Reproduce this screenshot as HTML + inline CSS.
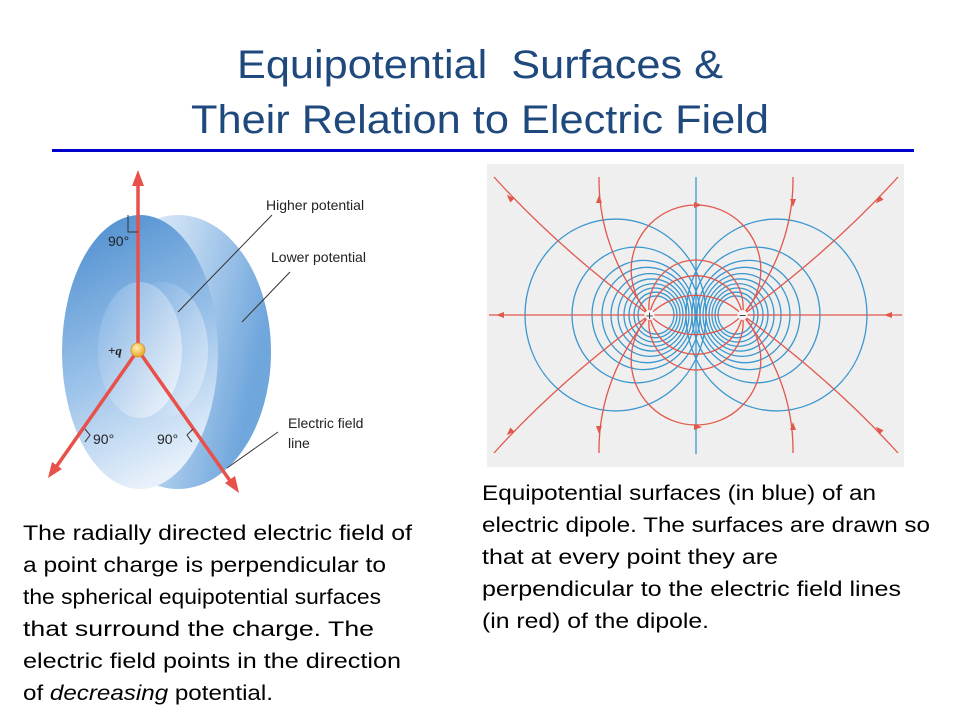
<!DOCTYPE html>
<html><head><meta charset="utf-8"><title>Equipotential Surfaces</title>
<style>
html,body{margin:0;padding:0;background:#fff;}
svg{display:block;font-family:"Liberation Sans",sans-serif;}
</style></head>
<body>
<svg id="slide" width="960" height="720" viewBox="0 0 960 720" xmlns="http://www.w3.org/2000/svg">
<defs>
  <linearGradient id="faceG" x1="0.2" y1="0" x2="0.5" y2="1">
    <stop offset="0" stop-color="#4f8fd0"/><stop offset="0.55" stop-color="#9cc3ea"/><stop offset="1" stop-color="#e8f1fb"/>
  </linearGradient>
  <linearGradient id="backG" x1="0" y1="0" x2="1" y2="0.3">
    <stop offset="0" stop-color="#ffffff"/><stop offset="0.5" stop-color="#c5dcf3"/><stop offset="1" stop-color="#6fa6dc"/>
  </linearGradient>
  <linearGradient id="holeG" x1="0" y1="0" x2="1" y2="1">
    <stop offset="0" stop-color="#6aa2da"/><stop offset="0.6" stop-color="#b9d4f0"/><stop offset="1" stop-color="#e6f0fa"/>
  </linearGradient>
  <linearGradient id="innerG" x1="0" y1="0" x2="1" y2="1">
    <stop offset="0" stop-color="#7eb0e2"/><stop offset="0.6" stop-color="#c8dcf2"/><stop offset="1" stop-color="#f4f8fd"/>
  </linearGradient>
  <radialGradient id="chargeG" cx="0.4" cy="0.35" r="0.7">
    <stop offset="0" stop-color="#fff3b0"/><stop offset="1" stop-color="#e8a020"/>
  </radialGradient>
</defs>

<g fill="#1f497d" font-size="40" text-anchor="middle">
  <text x="480" y="78" textLength="486" lengthAdjust="spacingAndGlyphs" xml:space="preserve">Equipotential  Surfaces &amp;</text>
  <text x="480" y="133" textLength="578" lengthAdjust="spacingAndGlyphs">Their Relation to Electric Field</text>
</g>
<rect x="52" y="149" width="862" height="3" fill="#0000cc"/>

<g>
  <ellipse cx="178" cy="352" rx="93" ry="137" fill="url(#backG)"/>
  <ellipse cx="140" cy="352" rx="78" ry="137" fill="url(#faceG)"/>
  <ellipse cx="162" cy="350" rx="46" ry="68" fill="url(#holeG)"/>
  <ellipse cx="140" cy="350" rx="42" ry="68" fill="url(#innerG)"/>
  <g stroke="#e8504a" stroke-width="3.5" fill="#e8504a">
    <line x1="138" y1="350" x2="138" y2="180"/>
    <polygon points="138,170 132,186 144,186" stroke="none"/>
    <line x1="138" y1="350" x2="54" y2="470"/>
    <polygon points="48,478 52,462 62,469" stroke="none"/>
    <line x1="138" y1="350" x2="233" y2="485"/>
    <polygon points="239,493 225,483 235,476" stroke="none"/>
  </g>
  <circle cx="138" cy="350" r="7" fill="url(#chargeG)" stroke="#d8902a" stroke-width="0.8"/>
  <g stroke="#333" stroke-width="1" fill="none">
    <polyline points="128,215 128,232 138,232"/>
    <polyline points="85,429 90,435 85,442"/>
    <polyline points="193,429 187,435 192,442"/>
    <line x1="272" y1="215" x2="178" y2="312"/>
    <line x1="290" y1="272" x2="242" y2="322"/>
    <line x1="278" y1="432" x2="227" y2="468"/>
  </g>
  <g fill="#222" font-size="14">
    <text x="108" y="246">90°</text>
    <text x="93" y="444">90°</text>
    <text x="157" y="444">90°</text>
    <text x="108" y="355" font-family="Liberation Serif,serif" font-style="italic" font-weight="bold" font-size="13">+q</text>
    <text x="266" y="210">Higher potential</text>
    <text x="271" y="262">Lower potential</text>
    <text x="288" y="428">Electric field</text>
    <text x="288" y="448">line</text>
  </g>
</g>

<g>
  <rect x="487" y="164" width="417" height="303" fill="#efefef"/>
  <g id="dipole"></g>
</g>

<g fill="#000" font-size="21">
  <text x="23" y="540" textLength="389" lengthAdjust="spacingAndGlyphs">The radially directed electric field of</text>
  <text x="23" y="572" textLength="363" lengthAdjust="spacingAndGlyphs">a point charge is perpendicular to</text>
  <text x="23" y="604" textLength="358" lengthAdjust="spacingAndGlyphs">the spherical equipotential surfaces</text>
  <text x="23" y="636" textLength="351" lengthAdjust="spacingAndGlyphs">that surround the charge. The</text>
  <text x="23" y="668" textLength="378" lengthAdjust="spacingAndGlyphs">electric field points in the direction</text>
  <text x="23" y="700" textLength="250" lengthAdjust="spacingAndGlyphs">of <tspan font-style="italic">decreasing</tspan> potential.</text>
</g>
<g fill="#000" font-size="21">
  <text x="482" y="500" textLength="394" lengthAdjust="spacingAndGlyphs">Equipotential surfaces (in blue) of an</text>
  <text x="482" y="532" textLength="448" lengthAdjust="spacingAndGlyphs">electric dipole. The surfaces are drawn so</text>
  <text x="482" y="564" textLength="296" lengthAdjust="spacingAndGlyphs">that at every point they are</text>
  <text x="482" y="596" textLength="419" lengthAdjust="spacingAndGlyphs">perpendicular to the electric field lines</text>
  <text x="482" y="628" textLength="227" lengthAdjust="spacingAndGlyphs">(in red) of the dipole.</text>
</g>
</svg>
<script>
var equiOuterOffset = [171, 124, 104, 94, 85, 78, 72, 67, 62, 58];
var equiInnerOffset = [-10, -4, 1, 4, 7, 10, 13, 16, 19, 22];
var loopHeights = [110, 55];
(function(){
var NS = 'http://www.w3.org/2000/svg';
var grp = document.getElementById('dipole');
var mid = 696, axisY = 315, a = 46.5;
function mk(tag, attrs){var e=document.createElementNS(NS,tag);for(var k in attrs)e.setAttribute(k,attrs[k]);grp.appendChild(e);return e;}
var blue = '#3a97cf', red = '#e2574c';
var ml = mk('line',{x1:mid,y1:177,x2:mid,y2:454,stroke:blue,'stroke-width':1.3});


for (var i=0;i<equiOuterOffset.length;i++){
  [-1,1].forEach(function(s){
    var L = equiOuterOffset[i], R = equiInnerOffset[i];
    var rx = (L - R)/2, cx = mid + s*(R + rx);
    var e = mk('ellipse',{cx:cx,cy:axisY,rx:rx,ry:rx*1.06,fill:'none',stroke:blue,'stroke-width':1.3});
    
    
  });
}
var lk = mk('line',{x1:489,y1:axisY,x2:902,y2:axisY,stroke:red,'stroke-width':1.3});


loopHeights.forEach(function(h){
  [-1,1].forEach(function(s){
    var d = (h*h - a*a)/(2*h), r = Math.sqrt(a*a+d*d);
    var c = mk('circle',{cx:mid,cy:axisY - s*(h - r),r:r,fill:'none',stroke:red,'stroke-width':1.3});
    
    
  });
});
var px = mid - a, nx = mid + a;
var open = [
  'M'+px+','+axisY+' Q560,250 494,177', 'M'+px+','+axisY+' Q598,250 599,177',
  'M'+px+','+axisY+' Q560,380 494,453', 'M'+px+','+axisY+' Q598,380 599,453',
  'M'+nx+','+axisY+' Q832,250 898,177', 'M'+nx+','+axisY+' Q794,250 793,177',
  'M'+nx+','+axisY+' Q832,380 898,453', 'M'+nx+','+axisY+' Q794,380 793,453'
];
open.forEach(function(p){
  var o = mk('path',{d:p,fill:'none',stroke:red,'stroke-width':1.3});
  
  
});
var arrows = [[502,315,-1,0],[890,315,-1,0],[696,205,1,0],[696,427,1,0],[599,201,0,-1],[599,428,0,1],[793,201,0,1],[793,428,0,-1],[511,199,-1,-1],[511,431,-1,1],[880,199,-1,1],[880,431,-1,-1]];
arrows.forEach(function(ar){
  var x=ar[0],y=ar[1],dx=ar[2],dy=ar[3];
  var n = Math.hypot(dx,dy), ux=dx/n, uy=dy/n, L=6, W=3;
  var pts = (x+ux*L)+','+(y+uy*L)+' '+(x-uy*W-ux*2)+','+(y+ux*W-uy*2)+' '+(x+uy*W-ux*2)+','+(y-ux*W-uy*2);
  var t = mk('polygon',{points:pts,fill:red});
  
  
});
[[px,'+'],[nx,'\u2212']].forEach(function(q){
  var c = mk('circle',{cx:q[0],cy:axisY,r:5,fill:'#f7f7f7'});
  
  
  var t = mk('text',{x:q[0],y:axisY+5,'text-anchor':'middle','font-size':13,fill:'#333'});
  t.textContent = q[1];
  
  
});
})();
</script>
</body></html>
